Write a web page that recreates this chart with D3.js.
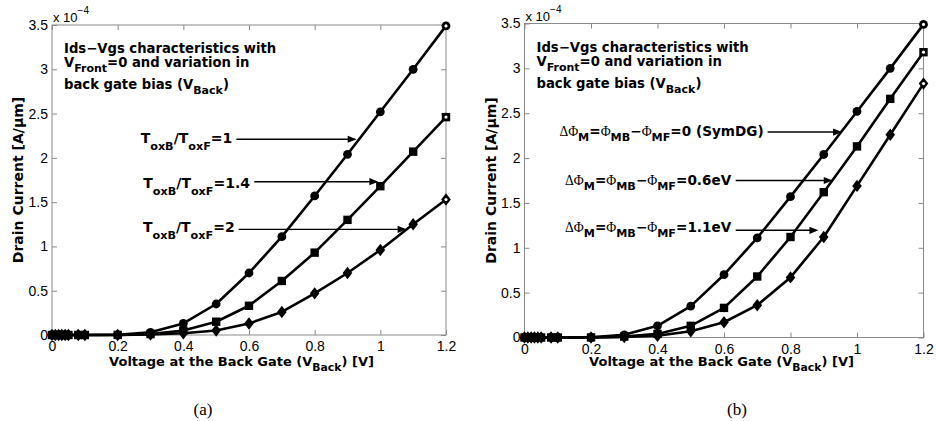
<!DOCTYPE html>
<html><head><meta charset="utf-8">
<script src="https://cdn.jsdelivr.net/npm/d3@7"></script>
<style>body{margin:0;background:#fff}svg{display:block}</style>
</head><body>
<svg id="chart" width="936" height="421"></svg>
<script>
// ---------------- data ----------------
const vBack = [0,0.01,0.02,0.03,0.04,0.05,0.08,0.1,0.2,0.3,0.4,0.5,0.6,0.7,0.8,0.9,1.0,1.1,1.2];
// panel (a): drain current x 1e-4 A/um
const idsToxRatio1  = [0,0,0,0,0,0,0,0,0.002,0.03,0.13,0.35,0.70,1.11,1.57,2.04,2.52,3.00,3.49];
const idsToxRatio14 = [0,0,0,0,0,0,0,0,0.001,0.01,0.05,0.15,0.33,0.61,0.93,1.30,1.68,2.07,2.46];
const idsToxRatio2  = [0,0,0,0,0,0,0,0,0,0.005,0.02,0.05,0.13,0.26,0.47,0.70,0.96,1.25,1.53];
// panel (b)
const idsDphi0  = [0,0,0,0,0,0,0,0,0.002,0.03,0.13,0.35,0.70,1.11,1.57,2.04,2.52,3.00,3.49];
const idsDphi06 = [0,0,0,0,0,0,0,0,0.001,0.01,0.04,0.13,0.33,0.68,1.12,1.62,2.13,2.66,3.18];
const idsDphi11 = [0,0,0,0,0,0,0,0,0,0.005,0.02,0.07,0.17,0.36,0.67,1.12,1.69,2.26,2.83];

const xTicks = [0,0.2,0.4,0.6,0.8,1,1.2];
const xTickLabels = ["0","0.2","0.4","0.6","0.8","1","1.2"];
const yTicks = [0,0.5,1,1.5,2,2.5,3,3.5];
const yTickLabels = ["0","0.5","1","1.5","2","2.5","3","3.5"];

const markerTypes = ["circle","square","diamond"];

const labelsA = [
  [{t:"T"},{t:"oxB",sub:1},{t:"/T"},{t:"oxF",sub:1},{t:"=1"}],
  [{t:"T"},{t:"oxB",sub:1},{t:"/T"},{t:"oxF",sub:1},{t:"=1.4"}],
  [{t:"T"},{t:"oxB",sub:1},{t:"/T"},{t:"oxF",sub:1},{t:"=2"}]
];
const labelsB = [
  [{t:"ΔΦ",sym:1},{t:"M",sub:1},{t:"="},{t:"Φ",sym:1},{t:"MB",sub:1},{t:"−"},{t:"Φ",sym:1},{t:"MF",sub:1},{t:"=0 (SymDG)"}],
  [{t:"ΔΦ",sym:1},{t:"M",sub:1},{t:"="},{t:"Φ",sym:1},{t:"MB",sub:1},{t:"−"},{t:"Φ",sym:1},{t:"MF",sub:1},{t:"=0.6eV"}],
  [{t:"ΔΦ",sym:1},{t:"M",sub:1},{t:"="},{t:"Φ",sym:1},{t:"MB",sub:1},{t:"−"},{t:"Φ",sym:1},{t:"MF",sub:1},{t:"=1.1eV"}]
];
// annotation anchors in data units: text x, text baseline y, arrow y, arrow tip x
const annotA = [
  {tx:0.27, ty:2.171, ay:2.210, tip:0.928},
  {tx:0.278,ty:1.656, ay:1.731, tip:0.994},
  {tx:0.277,ty:1.166, ay:1.193, tip:1.080}
];
const annotB = [
  {tx:0.105,ty:2.25, ay:2.29, tip:0.955},
  {tx:0.122,ty:1.70, ay:1.75, tip:0.927},
  {tx:0.122,ty:1.18, ay:1.195,tip:0.884}
];
const titleLines = [
  [{t:"Ids−Vgs characteristics with"}],
  [{t:"V"},{t:"Front",sub:1},{t:"=0 and variation in"}],
  [{t:"back gate bias (V"},{t:"Back",sub:1},{t:")"}]
];
const xLabelParts = [{t:"Voltage at the Back Gate (V"},{t:"Back",sub:1},{t:") [V]"}];
const yLabel = "Drain Current [A/μm]";

// ---------------- drawing ----------------
const svg = d3.select("#chart");
const FONT = "'Liberation Sans', Arial, Helvetica, sans-serif";
const BFONT = "'DejaVu Sans', Verdana, sans-serif";

function rich(sel, parts, size, subSize, subDy) {
  let shifted = 0;
  parts.forEach(p => {
    const ts = sel.append("tspan").text(p.t);
    if (p.sub) {
      ts.attr("font-size", subSize).attr("dy", subDy - shifted);
      shifted = subDy;
    } else {
      ts.attr("font-size", size).attr("dy", -shifted);
      shifted = 0;
      if (p.sym) ts.attr("font-family", "'Liberation Serif','DejaVu Serif',serif").attr("font-weight", "normal");
    }
  });
}

function marker(g, type, x, y, last) {
  if (type === "circle") g.append("circle").attr("cx", x).attr("cy", y).attr("r", 4.4).attr("fill", "#000");
  else if (type === "square") g.append("rect").attr("x", x-4.2).attr("y", y-4.2).attr("width", 8.4).attr("height", 8.4).attr("fill", "#000");
  else g.append("path").attr("d", `M${x},${y-6.2}L${x+4.8},${y}L${x},${y+6.2}L${x-4.8},${y}Z`).attr("fill", "#000");
  if (last) g.append("circle").attr("cx", x).attr("cy", y).attr("r", 1.6).attr("fill", "#fff");
}

function panel(cfg) {
  const x = d3.scaleLinear().domain([0,1.2]).range([cfg.left, cfg.right]);
  const y = d3.scaleLinear().domain([0,3.5]).range([cfg.bottom, cfg.top]);
  const g = svg.append("g");

  // frame
  g.append("rect").attr("x", cfg.left).attr("y", cfg.top)
    .attr("width", cfg.right-cfg.left).attr("height", cfg.bottom-cfg.top)
    .attr("fill", "none").attr("stroke", "#8a8a8a").attr("stroke-width", 1);

  // axes via d3
  const ax = g.append("g").attr("transform", `translate(0,${cfg.bottom})`)
    .call(d3.axisBottom(x).tickValues(xTicks).tickFormat((d,i)=>xTickLabels[i]).tickSizeInner(-5).tickSizeOuter(0).tickPadding(cfg.xtickPad));
  const axT = g.append("g").attr("transform", `translate(0,${cfg.top})`)
    .call(d3.axisTop(x).tickValues(xTicks).tickFormat("").tickSizeInner(-5).tickSizeOuter(0));
  const ay = g.append("g").attr("transform", `translate(${cfg.left},0)`)
    .call(d3.axisLeft(y).tickValues(yTicks).tickFormat((d,i)=>yTickLabels[i]).tickSizeInner(-5).tickSizeOuter(0).tickPadding(4));
  const ayR = g.append("g").attr("transform", `translate(${cfg.right},0)`)
    .call(d3.axisRight(y).tickValues(yTicks).tickFormat("").tickSizeInner(-5).tickSizeOuter(0));
  [ax, axT, ay, ayR].forEach(a => {
    a.select(".domain").remove();
    a.selectAll("line").attr("stroke", "#8a8a8a");
    a.selectAll("text").attr("font-family", FONT).attr("font-size", 14).attr("fill", "#000");
  });
  ax.selectAll("text").attr("dy", "0.55em");

  // exponent
  const ex = g.append("text").attr("x", cfg.left+1).attr("y", cfg.top-3)
    .attr("font-family", FONT).attr("font-size", 13).attr("fill", "#000");
  ex.append("tspan").text("x 10");
  ex.append("tspan").text("−4").attr("font-size", 10).attr("dy", -8);

  // title annotation
  const titleBase = [cfg.top+28, cfg.top+42, cfg.top+64];
  titleLines.forEach((ln, i) => {
    const t = g.append("text").attr("x", cfg.left+12).attr("y", titleBase[i])
      .attr("font-family", BFONT).attr("font-weight", "bold").attr("fill", "#000");
    rich(t, ln, 13.2, 11, 5);
  });

  // series lines and markers
  cfg.series.forEach((vals, si) => {
    const pts = vBack.map((v,i)=>[v, vals[i]]);
    g.append("path").datum(pts)
      .attr("d", d3.line().x(d=>x(d[0])).y(d=>y(d[1])))
      .attr("fill", "none").attr("stroke", "#000").attr("stroke-width", 2.6).attr("stroke-linejoin", "round");
    const mg = g.append("g");
    pts.forEach((d,i) => marker(mg, markerTypes[si], x(d[0]), y(d[1]), i === pts.length-1));
  });

  // labels with arrows
  cfg.labels.forEach((parts, i) => {
    const a = cfg.annot[i];
    const t = g.append("text").attr("x", x(a.tx)).attr("y", y(a.ty))
      .attr("font-family", BFONT).attr("font-weight", "bold").attr("fill", "#000");
    rich(t, parts, cfg.labelSize, cfg.labelSub, cfg.labelSubDy);
    const bb = t.node().getBBox();
    const x0 = bb.x + bb.width + 4, x1 = x(a.tip), yy = y(a.ay);
    g.append("line").attr("x1", x0).attr("x2", x1-8).attr("y1", yy).attr("y2", yy)
      .attr("stroke", "#000").attr("stroke-width", 1.4);
    g.append("path").attr("d", `M${x1},${yy}L${x1-9},${yy-3.6}L${x1-9},${yy+3.6}Z`).attr("fill", "#000");
  });

  // axis labels
  const xl = g.append("text").attr("x", (cfg.left+cfg.right)/2 + cfg.xlabDx).attr("y", cfg.xlabY)
    .attr("text-anchor", "middle").attr("font-family", BFONT).attr("font-weight", "bold").attr("fill", "#000");
  rich(xl, xLabelParts, 13, 10.8, 5);
  g.append("text").attr("transform", `translate(${cfg.left-29},${(cfg.top+cfg.bottom)/2}) rotate(-90)`)
    .attr("text-anchor", "middle").attr("font-family", BFONT).attr("font-weight", "bold")
    .attr("font-size", 14).attr("fill", "#000").text(yLabel);

  // caption
  g.append("text").attr("x", (cfg.left+cfg.right)/2 + cfg.capDx).attr("y", 415)
    .attr("text-anchor", "middle").attr("font-family", "'Liberation Serif','Times New Roman',serif")
    .attr("font-size", 17).attr("fill", "#000").text(cfg.caption);
}

panel({left:52, right:446, top:25, bottom:335, series:[idsToxRatio1, idsToxRatio14, idsToxRatio2],
  labels:labelsA, annot:annotA, labelSize:14, labelSub:11.2, labelSubDy:7, xlabY:366, xlabDx:-7.5, xtickPad:8, capDx:-46, caption:"(a)"});
panel({left:524.5, right:923.5, top:23.5, bottom:337.5, series:[idsDphi0, idsDphi06, idsDphi11],
  labels:labelsB, annot:annotB, labelSize:13.6, labelSub:11.2, labelSubDy:5, xlabY:366, xlabDx:-2.5, xtickPad:9, capDx:13, caption:"(b)"});
</script>
</body></html>
